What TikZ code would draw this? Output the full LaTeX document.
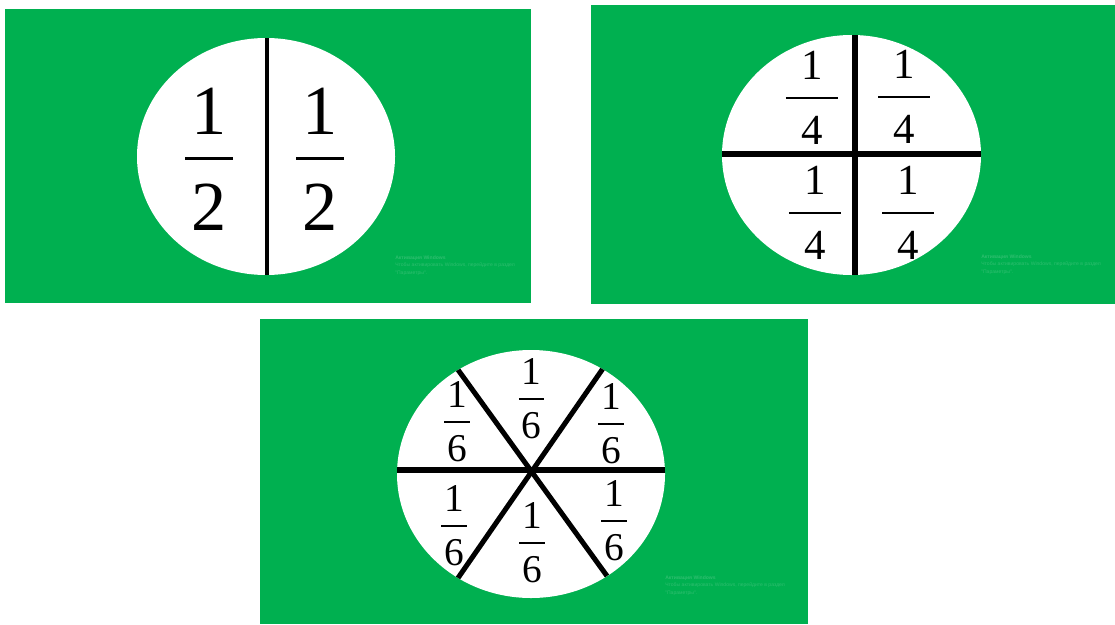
\documentclass[tikz,border=0pt]{standalone}
\usepackage{fontspec}
\setmainfont{Liberation Serif}
\newfontfamily\fracfont{Liberation Serif}
\newfontfamily\wmfont{Liberation Sans}
\usetikzlibrary{positioning,calc}
\definecolor{boardgreen}{RGB}{0,176,80}
% #1 denominator, #2 font size, #3 bar width, #4 gap, #5 bar thickness
\newcommand{\frc}[5]{{\fracfont\fontsize{#2}{#2}\selectfont\vbox{\offinterlineskip
	\halign{\hfil##\hfil\cr 1\cr\noalign{\kern#4}\rule{#3}{#5}\cr\noalign{\kern#4}#1\cr}}}}
\newcommand{\half}{\frc{2}{50pt}{34pt}{16.5pt}{2.2pt}}
\newcommand{\quart}{\frc{4}{30.5pt}{37pt}{12.2pt}{2pt}}
\newcommand{\sixth}{\frc{6}{28pt}{18pt}{9pt}{1.8pt}}
\newcommand{\wmtext}{{\bfseries Активация Windows}\\Чтобы активировать Windows, перейдите в раздел\\"Параметры".}
\tikzset{
	panelbg/.style={fill=boardgreen, draw=none},
	disc/.style={fill=white, draw=none},
	fracnode/.style={inner sep=0pt, outer sep=0pt},
	cutline/.style={draw=black, line width=3.6pt},
	wmark/.style={anchor=north west, inner sep=0pt, align=left, text=boardgreen!82!white,
		font=\wmfont\fontsize{3.6pt}{5pt}\selectfont}
}
\begin{document}
\begin{tikzpicture}[x=0.025cm, y=-0.025cm]
	\useasboundingbox (0,0) rectangle (1115,624);
	% halves
	\fill[panelbg] (5,9) rectangle (531,303);
	\coordinate (c1) at (266,156.5);
	\fill[disc] (c1) ellipse [x radius=129, y radius=118.5];
	\begin{scope}
		\clip (c1) ellipse [x radius=129, y radius=118.5];
		\draw[cutline, line width=2.2pt] (267,30) -- (267,285);
	\end{scope}
	\node[fracnode] (h1) at (209,159) {\half};
	\node[fracnode] (h2) at (320,159) {\half};
	\node[wmark] (w1) at (395,256) {\wmtext};
	% quarters
	\fill[panelbg] (591,5) rectangle (1115,304);
	\coordinate (c2) at (851.5,155);
	\fill[disc] (c2) ellipse [x radius=129.5, y radius=120];
	\begin{scope}
		\clip (c2) ellipse [x radius=129.5, y radius=120];
		\draw[cutline] (855,30) -- (855,285);
		\draw[cutline] (715,154) -- (990,154);
	\end{scope}
	\node[fracnode] (q1) at (812,98) {\quart};
	\node[fracnode] (q2) at (904,97) {\quart};
	\node[fracnode] (q3) at (815,213) {\quart};
	\node[fracnode] (q4) at (908,213) {\quart};
	\node[wmark] (w2) at (981,255) {\wmtext};
	% sixths
	\fill[panelbg] (260,319) rectangle (808,624);
	\coordinate (c3) at (531,474);
	\coordinate (tl) at (456,367);
	\coordinate (tr) at (604,367);
	\coordinate (bl) at (458,578);
	\coordinate (br) at (607,576);
	\fill[disc] (c3) ellipse [x radius=134, y radius=124];
	\begin{scope}
		\clip (c3) ellipse [x radius=134, y radius=124];
		\draw[cutline] (390,470) -- (675,470);
		\draw[cutline] (tl) -- (br);
		\draw[cutline] (tr) -- (bl);
	\end{scope}
	\node[fracnode] (s1) at (531.5,399) {\sixth};
	\node[fracnode] (s2) at (457,422) {\sixth};
	\node[fracnode] (s3) at (611,424) {\sixth};
	\node[fracnode] (s4) at (454,526) {\sixth};
	\node[fracnode] (s5) at (532,543) {\sixth};
	\node[fracnode] (s6) at (614,521) {\sixth};
	\node[wmark] (w3) at (665,576) {\wmtext};
\end{tikzpicture}
\end{document}
